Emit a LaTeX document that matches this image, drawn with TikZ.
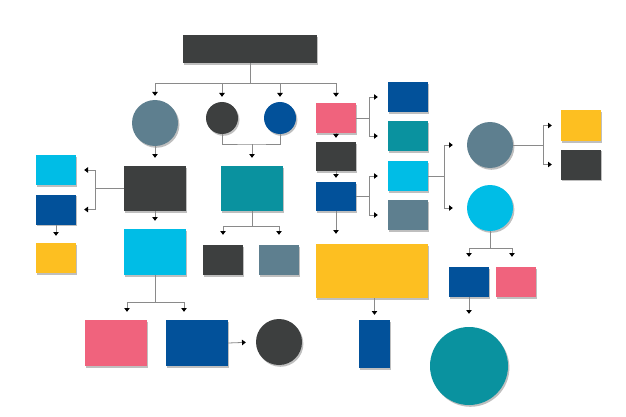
\documentclass[tikz,border=0pt]{standalone}
\usetikzlibrary{arrows.meta,shadows}
\definecolor{cdark}{HTML}{3D3F3F}
\definecolor{cslate}{HTML}{5E7F8F}
\definecolor{cblue}{HTML}{02519A}
\definecolor{cteal}{HTML}{0A929F}
\definecolor{ccyan}{HTML}{00BDE6}
\definecolor{cpink}{HTML}{F0637D}
\definecolor{cyellow}{HTML}{FDBF21}
\definecolor{cline}{HTML}{8A8A8A}
\tikzset{
  shd/.style={drop shadow={shadow xshift=1.4pt,shadow yshift=-1.8pt,opacity=0.25,fill=black}},
  bx/.style n args={3}{rectangle,inner sep=0pt,draw=none,fill=#1,minimum width=#2,minimum height=#3,shd},
  cir/.style n args={2}{circle,inner sep=0pt,draw=none,fill=#1,minimum size=#2,shd},
  ln/.style={draw=cline,line width=0.8pt},
  arr/.style={ln,-{Triangle[length=3.8pt,width=5.5pt,color=black]},shorten >=#1},
  arr/.default=5pt
}
\begin{document}
\begin{tikzpicture}[x=1pt,y=-1pt]
\useasboundingbox (0,0) rectangle (626,417);
% nodes
\node[bx={cdark}{134pt}{28pt}] (top) at (250,49) {};
\node[cir={cslate}{46pt}] (c1) at (155,123) {};
\node[cir={cdark}{32pt}] (c2) at (222,118) {};
\node[cir={cblue}{32pt}] (c3) at (280,118) {};
\node[bx={cpink}{40pt}{30pt}] (pk1) at (336,118) {};
\node[bx={cdark}{62pt}{45pt}] (dk1) at (155,188.5) {};
\node[bx={cteal}{62pt}{45pt}] (tl1) at (252,188.5) {};
\node[bx={ccyan}{40pt}{30pt}] (cys) at (56,170) {};
\node[bx={cblue}{40pt}{30pt}] (bls) at (56,209.5) {};
\node[bx={cyellow}{40pt}{30pt}] (yls) at (56,258) {};
\node[bx={ccyan}{62pt}{46pt}] (cyB) at (155,252) {};
\node[bx={cpink}{62pt}{46pt}] (pkB) at (116,343) {};
\node[bx={cblue}{62pt}{46pt}] (blB) at (197,343) {};
\node[cir={cdark}{46pt}] (dkC) at (279,342) {};
\node[bx={cdark}{40pt}{30pt}] (dkS) at (223,260) {};
\node[bx={cslate}{40pt}{30pt}] (slS) at (279,260) {};
\node[bx={cdark}{40pt}{29pt}] (dk2) at (336,156.5) {};
\node[bx={cblue}{40pt}{29pt}] (bl2) at (336,196.5) {};
\node[bx={cyellow}{112pt}{54pt}] (ylB) at (372,271) {};
\node[bx={cblue}{31pt}{48pt}] (blT) at (374.5,344) {};
\node[bx={cblue}{40pt}{30pt}] (r1) at (408,97) {};
\node[bx={cteal}{40pt}{30pt}] (r2) at (408,136) {};
\node[bx={ccyan}{40pt}{30pt}] (r3) at (408,176) {};
\node[bx={cslate}{40pt}{30pt}] (r4) at (408,215) {};
\node[cir={cslate}{46pt}] (slC) at (490,145) {};
\node[cir={ccyan}{46pt}] (cyC) at (490,208) {};
\node[bx={cyellow}{40pt}{31pt}] (ylR) at (581,125.5) {};
\node[bx={cdark}{40pt}{30pt}] (dkR) at (581,164.5) {};
\node[bx={cblue}{40pt}{30pt}] (blS) at (469,282) {};
\node[bx={cpink}{40pt}{30pt}] (pkS) at (516,282) {};
\node[cir={cteal}{78pt}] (tlC) at (469,366) {};
% junction coordinates
\coordinate (b0) at (250,83);
\coordinate (j1) at (252,144);
\coordinate (j2) at (95,188.5);
\coordinate (j3) at (369,118);
\coordinate (j4) at (369,196.5);
\coordinate (j5) at (444,176);
\coordinate (j6) at (543,145);
\coordinate (j7) at (490,248);
\coordinate (j8) at (155,302);
\coordinate (j9) at (252,226);
% connectors
\draw[ln] (top.south) -- (b0);
\draw[arr=4pt] (b0) -| (c1.north);
\draw[arr=5pt] (b0) -| (c2.north);
\draw[arr=5pt] (b0) -| (c3.north);
\draw[arr=6pt] (b0) -| (pk1.north);
\draw[ln] (c2.south) |- (j1) -| (c3.south);
\draw[arr=8pt] (j1) -- (j1 |- tl1.north);
\draw[arr=8pt] (c1) -- (dk1);
\draw[ln] (dk1.west) -- (j2);
\draw[arr=8pt] (j2) |- (cys.east);
\draw[arr=8pt] (j2) |- (bls.east);
\draw[arr=7pt] (bls) -- (yls);
\draw[arr=8pt] (dk1) -- (cyB);
\draw[ln] (cyB.south) -- (j8);
\draw[arr=8pt] (j8) -| ([xshift=11pt]pkB.north);
\draw[arr=8pt] (j8) -| ([xshift=-13pt]blB.north);
\draw[arr=10pt] (blB.east) -- (dkC.west);
\draw[ln] (tl1.south -| j9) -- (j9);
\draw[arr=10pt] (j9) -| (dkS.north);
\draw[arr=10pt] (j9) -| (slS.north);
\draw[arr=4pt] (pk1) -- (dk2);
\draw[arr=4pt] (dk2) -- (bl2);
\draw[arr=10pt] (bl2) -- (bl2 |- ylB.north);
\draw[arr=5pt] (ylB.south -| blT) -- (blT.north);
\draw[ln] (pk1.east) -- (j3);
\draw[arr=10pt] (j3) |- (r1.west);
\draw[arr=10pt] (j3) |- (r2.west);
\draw[ln] (bl2.east) -- (j4);
\draw[arr=10pt] (j4) |- (r3.west);
\draw[arr=10pt] (j4) |- (r4.west);
\draw[ln] (r3.east) -- (j5);
\draw[arr=14pt] (j5) |- (slC.west);
\draw[arr=14pt] (j5) |- (cyC.west);
\draw[ln] (slC.east) -- (j6);
\draw[arr=9pt] (j6) |- (ylR.west);
\draw[arr=9pt] (j6) |- (dkR.west);
\draw[ln] (cyC.south) -- (j7);
\draw[arr=10pt] (j7) -| (blS.north);
\draw[arr=10pt] (j7) -| ([xshift=-4pt]pkS.north);
\draw[arr=13pt] (blS) -- (tlC);
\end{tikzpicture}
\end{document}
